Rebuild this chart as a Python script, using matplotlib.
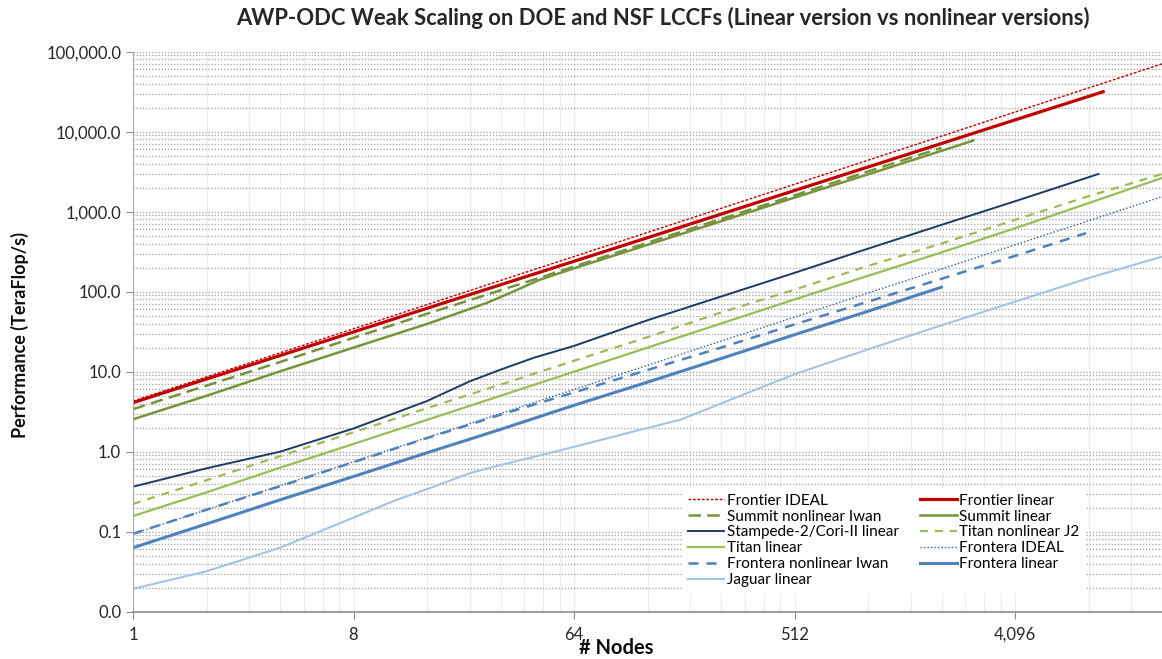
"""AWP-ODC weak scaling: linear vs nonlinear versions on DOE/NSF LCCFs."""
import matplotlib
matplotlib.use("Agg")
import matplotlib.pyplot as plt
from matplotlib.ticker import FixedLocator, FuncFormatter, NullFormatter

plt.rcParams["font.family"] = ["Lato", "DejaVu Sans"]

# node counts and performance (TeraFlop/s)
frontier_ideal_n = [1, 2, 4, 8, 16, 32, 64, 128, 256, 512, 1024, 2048, 4096, 8192, 16384]
frontier_ideal = [4.3, 8.6, 17.2, 34.4, 68.8, 138, 275, 550, 1100, 2200, 4400, 8800, 17600, 35200, 70400]

frontier_lin_n = [1, 2, 4, 8, 16, 32, 64, 128, 256, 512, 1024, 2048, 4096, 9408]
frontier_lin = [4.1, 8.1, 15.9, 31.4, 62, 122, 240, 473, 932, 1840, 3620, 7120, 14040, 31600]

summit_nl_n = [1, 2, 4, 8, 16, 32, 64, 128, 256, 512, 1024, 2048]
summit_nl = [3.4, 6.7, 13.2, 26.5, 53, 104, 206, 410, 810, 1600, 3180, 6300]

summit_lin_n = [1, 2, 4, 8, 16, 28, 36, 46, 64, 128, 256, 512, 1024, 2048, 2760]
summit_lin = [2.54, 5.0, 10.1, 20, 39.5, 72, 100, 140, 196, 385, 760, 1500, 2930, 5770, 7740]

stampede_n = [1, 2, 4, 8, 16, 24, 32, 44, 64, 128, 256, 512, 1024, 2048, 4096, 9000]
stampede = [0.365, 0.62, 1.0, 1.95, 4.3, 7.6, 10.6, 15.0, 21, 44, 87, 172, 345, 685, 1350, 2960]

titan_j2_n = [1, 2, 4, 8, 16, 32, 64, 128, 256, 512, 1024, 2048, 4096, 8192, 16384]
titan_j2 = [0.222, 0.44, 0.88, 1.75, 3.5, 6.9, 13.7, 27, 55, 106, 210, 400, 790, 1560, 2960]

titan_lin_n = [1, 2, 4, 8, 16, 32, 64, 128, 256, 512, 1024, 2048, 4096, 8192, 16384]
titan_lin = [0.157, 0.31, 0.63, 1.25, 2.5, 5.0, 10, 20, 40, 80, 158, 310, 620, 1280, 2640]

frontera_ideal_n = [1, 2, 4, 8, 16, 32, 64, 128, 256, 512, 1024, 2048, 4096, 8192, 16384]
frontera_ideal = [0.094, 0.188, 0.376, 0.75, 1.5, 3.0, 6.0, 12.0, 24.1, 48.1, 96.3, 192, 385, 770, 1540]

frontera_nl_n = [1, 2, 4, 8, 16, 32, 64, 128, 256, 512, 1024, 2048, 4096, 8008]
frontera_nl = [0.094, 0.188, 0.37, 0.74, 1.48, 2.9, 5.5, 10.5, 20, 39, 75, 145, 280, 540]

frontera_lin_n = [1, 2, 4, 8, 16, 32, 64, 128, 256, 512, 1024, 2048]
frontera_lin = [0.063, 0.125, 0.25, 0.49, 0.97, 1.9, 3.8, 7.4, 14.6, 29, 57, 114]

jaguar_n = [1, 2, 4, 8, 12, 16, 24, 32, 64, 128, 174, 256, 512, 1024, 2048, 4096, 8192, 16384]
jaguar = [0.0193, 0.032, 0.063, 0.15, 0.25, 0.34, 0.54, 0.68, 1.15, 1.98, 2.5, 4.0, 9.3, 19, 38, 75, 148, 274]

x_ticks = [1, 8, 64, 512, 4096]
x_tick_labels = ["1", "8", "64", "512", "4,096"]

RED = "#C00000"
OLIVE = "#77933C"
NAVY = "#1F3864"
LGREEN = "#9BBB59"
BLUE = "#4F81BD"
DBLUE = "#2E5C9A"
LBLUE = "#A9C2E0"


def main() -> None:
    fig = plt.figure(figsize=(11.62, 6.59), dpi=100)
    ax = fig.add_axes([133 / 1162, 47.3 / 659, 1 - 133 / 1162, 560 / 659])

    h = {}
    h["fi"], = ax.plot(frontier_ideal_n, frontier_ideal, color=RED, lw=1.0, dashes=(2, 1.2),
                       label="Frontier IDEAL")
    h["fl"], = ax.plot(frontier_lin_n, frontier_lin, color=RED, lw=2.3, label="Frontier linear")
    h["snl"], = ax.plot(summit_nl_n, summit_nl, color=OLIVE, lw=1.8, dashes=(5, 2.5),
                        label="Summit nonlinear Iwan")
    h["sl"], = ax.plot(summit_lin_n, summit_lin, color=OLIVE, lw=1.8, label="Summit linear")
    h["st"], = ax.plot(stampede_n, stampede, color=NAVY, lw=1.4, label="Stampede-2/Cori-II linear")
    h["tj"], = ax.plot(titan_j2_n, titan_j2, color=LGREEN, lw=1.6, dashes=(3.6, 3.1),
                       label="Titan nonlinear J2")
    h["tl"], = ax.plot(titan_lin_n, titan_lin, color=LGREEN, lw=1.6, label="Titan linear")
    h["fri"], = ax.plot(frontera_ideal_n, frontera_ideal, color=DBLUE, lw=1.0, dashes=(1, 1.5),
                        label="Frontera IDEAL")
    h["frn"], = ax.plot(frontera_nl_n, frontera_nl, color=BLUE, lw=1.8, dashes=(4, 3.2),
                        label="Frontera nonlinear Iwan")
    h["frl"], = ax.plot(frontera_lin_n, frontera_lin, color=BLUE, lw=2.2, label="Frontera linear")
    h["jg"], = ax.plot(jaguar_n, jaguar, color=LBLUE, lw=1.5, label="Jaguar linear")

    ax.set_xscale("log", base=2)
    ax.set_yscale("log")
    ax.set_xlim(1, 16384)
    ax.set_ylim(0.01, 1e5)

    ax.xaxis.set_major_locator(FixedLocator(x_ticks))
    ax.set_xticklabels(x_tick_labels)
    minors = [m * 8 ** k for k in range(5) for m in range(2, 8)]
    ax.xaxis.set_minor_locator(FixedLocator(minors))
    ax.xaxis.set_minor_formatter(NullFormatter())
    ax.yaxis.set_major_locator(FixedLocator([10.0 ** e for e in range(-2, 6)]))
    ax.yaxis.set_major_formatter(FuncFormatter(lambda v, _: f"{v:,.1f}"))
    ax.yaxis.set_minor_locator(FixedLocator([m * 10.0 ** e for e in range(-2, 5) for m in range(2, 10)]))
    ax.yaxis.set_minor_formatter(NullFormatter())

    ax.tick_params(axis="both", which="minor", length=0)
    ax.tick_params(axis="both", which="major", length=5, color="#8C8C8C",
                   labelsize=12, labelcolor="#262626")
    ax.tick_params(axis="x", pad=6)

    ax.grid(axis="y", which="both", color="#A0A0A0", lw=0.9, ls=(0, (1, 1.5)))
    ax.grid(axis="x", which="both", color="#EDEDED", lw=0.8, ls="-")
    ax.set_axisbelow(True)
    for side in ("top", "right"):
        ax.spines[side].set_visible(False)
    ax.spines["left"].set_color("#A6A6A6")
    ax.spines["bottom"].set_color("#8C8C8C")
    ax.spines["bottom"].set_linewidth(1.2)

    order = ["fi", "snl", "st", "tl", "frn", "jg", "fl", "sl", "tj", "fri", "frl"]
    leg = ax.legend([h[k] for k in order], [h[k].get_label() for k in order], ncol=2,
                    loc="upper left", bbox_to_anchor=(674 / 1162, 1 - 480 / 659),
                    bbox_transform=fig.transFigure, fontsize=11, frameon=True,
                    handlelength=2.4, handletextpad=0.15, columnspacing=1.4,
                    labelspacing=0.12, borderpad=0.4)
    leg.get_frame().set_facecolor("white")
    leg.get_frame().set_edgecolor("none")
    leg.get_frame().set_alpha(1.0)

    fig.text(663 / 1162, 1 - 18 / 659, "AWP-ODC Weak Scaling on DOE and NSF LCCFs "
             "(Linear version vs nonlinear versions)", ha="center", va="center",
             fontsize=15.8, fontweight="bold", color="#262626")
    fig.text(20 / 1162, 1 - 335 / 659, "Performance (TeraFlop/s)", rotation=90,
             ha="center", va="center", fontsize=13, fontweight="bold", color="#0D0D0D")
    fig.text(616 / 1162, 1 - 648 / 659, "# Nodes", ha="center", va="center",
             fontsize=14.5, fontweight="bold", color="#0D0D0D")

    fig.savefig("out.png", dpi=100)
    plt.close(fig)


if __name__ == "__main__":
    main()
